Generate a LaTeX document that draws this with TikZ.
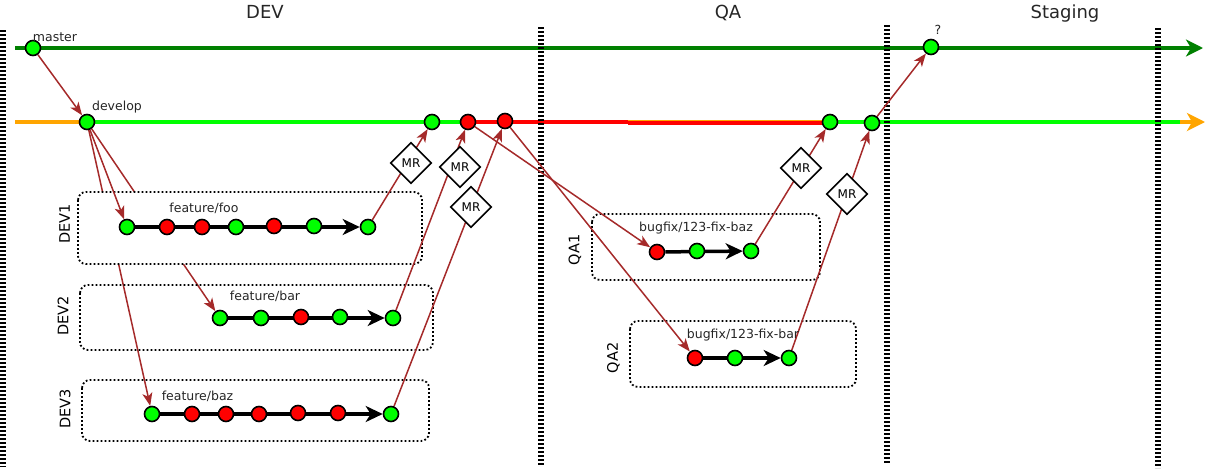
\documentclass[tikz,border=0pt]{standalone}
\usepackage{fontspec}
\setmainfont{DejaVu Sans}
\usetikzlibrary{arrows.meta,shapes.geometric}
\definecolor{mgreen}{RGB}{0,128,0}
\definecolor{cgreen}{RGB}{0,255,0}
\definecolor{cred}{RGB}{255,0,0}
\definecolor{corange}{RGB}{255,165,0}
\definecolor{cbrown}{RGB}{165,42,42}
\pgfdeclarelayer{back}
\pgfsetlayers{back,main}
\begin{document}
\begin{tikzpicture}[x=1pt,y=-1pt,
  commit/.style={circle,draw=black,line width=1.6pt,minimum size=15pt,inner sep=0pt},
  gc/.style={commit,fill=cgreen},
  rc/.style={commit,fill=cred},
  sepline/.style={line width=5.5pt,dash pattern=on 2pt off 2pt},
  lane/.style={draw=black,line width=1.8pt,dash pattern=on 1.8pt off 2.2pt,rounded corners=8pt},
  link/.style={cbrown,line width=1.5pt,-{Stealth[length=13pt,width=10pt,inset=3.5pt]}},
  branchline/.style={black,line width=3.5pt,-{Stealth[length=17pt,width=16pt,inset=5pt]}},
  mr/.style={diamond,draw=black,fill=white,line width=1.6pt,minimum size=41pt,inner sep=0pt,font=\fontsize{12}{14}\selectfont},
  small/.style={font=\fontsize{12.5}{15}\selectfont,anchor=base,text=black!85},
  title/.style={font=\fontsize{18}{21}\selectfont,anchor=base,text=black!85},
  lanelabel/.style={font=\fontsize{14.5}{17}\selectfont,rotate=90},
  mainline/.style={line width=4pt},
]
\path[use as bounding box] (0,0) rectangle (1207,474);

% titles
\node[title] (tdev) at (265,18) {DEV};
\node[title] (tqa) at (728,18) {QA};
\node[title] (tstg) at (1065,18) {Staging};

% master / develop commits
\node[gc] (m0) at (33,48) {};
\node[gc] (mq) at (931,47) {};
\node[gc] (d0) at (87,122) {};
\node[gc] (d1) at (432,122) {};
\node[rc] (d2) at (468,122) {};
\node[rc] (d3) at (505,121) {};
\node[gc] (d4) at (830,122) {};
\node[gc] (d5) at (872,123) {};
\node[small] (lmaster) at (55,41.5) {master};
\node[small] (ldevelop) at (117,110) {develop};
\node[small] (lq) at (938,34.5) {?};

% feature/foo
\node[gc] (f1) at (127,227) {};
\node[rc] (f2) at (167,227) {};
\node[rc] (f3) at (202,227) {};
\node[gc] (f4) at (236,227) {};
\node[rc] (f5) at (274,226) {};
\node[gc] (f6) at (314,226) {};
\node[gc] (f7) at (368,227) {};
% feature/bar
\node[gc] (b1) at (220,318) {};
\node[gc] (b2) at (261,318) {};
\node[rc] (b3) at (301,317) {};
\node[gc] (b4) at (340,317) {};
\node[gc] (b5) at (393,318) {};
% feature/baz
\node[gc] (z1) at (152,414) {};
\node[rc] (z2) at (192,414) {};
\node[rc] (z3) at (226,414) {};
\node[rc] (z4) at (259,414) {};
\node[rc] (z5) at (298,413) {};
\node[rc] (z6) at (338,413) {};
\node[gc] (z7) at (391,414) {};
% bugfix/123-fix-baz
\node[rc] (qa1) at (657,252) {};
\node[gc] (qa2) at (697,251) {};
\node[gc] (qa3) at (751,251) {};
% bugfix/123-fix-bar
\node[rc] (qb1) at (695,358) {};
\node[gc] (qb2) at (735,358) {};
\node[gc] (qb3) at (789,358) {};

% branch labels
\node[small] (lfoo) at (204,212) {feature/foo};
\node[small] (lbar) at (265,300.5) {feature/bar};
\node[small] (lbaz) at (197.5,400) {feature/baz};
\node[small] (lqa1) at (696,231.5) {bugfix/123-fix-baz};
\node[small] (lqa2) at (743,338.5) {bugfix/123-fix-bar};

% lane labels
\node[lanelabel] (ldev1) at (64.5,224) {DEV1};
\node[lanelabel] (ldev2) at (63,316) {DEV2};
\node[lanelabel] (ldev3) at (65,409) {DEV3};
\node[lanelabel] (lqa1l) at (575,250) {QA1};
\node[lanelabel] (lqa2l) at (613.5,358) {QA2};

% MR diamonds
\node[mr] (mr1) at (411,163) {MR};
\node[mr] (mr2) at (460,167) {MR};
\node[mr] (mr3) at (471,207) {MR};
\node[mr] (mr4) at (801,168) {MR};
\node[mr] (mr5) at (847,194) {MR};

\coordinate (ms) at (15,48);
\coordinate (me) at (1203,48);
\coordinate (ds) at (15,122);
\coordinate (de) at (1205,122);
\coordinate (rmid) at (628,122);
\coordinate (rmid2) at (628,123);
\coordinate (rend2) at (830,123);
\coordinate (gend) at (1180,122);

\begin{pgfonlayer}{back}
  % horizontal lines
  \draw[mainline,mgreen,-{Stealth[length=17pt,width=17pt,inset=5pt]}] (ms) -- (me);
  \draw[mainline,corange,-{Stealth[length=18pt,width=18pt,inset=5pt]}] (ds) -- (de);
  \draw[mainline,cgreen] (d0.center) -- (d2.center);
  \draw[mainline,cred] (d2.center) -- (rmid);
  \draw[line width=3.6pt,cred] (rmid2) -- (rend2);
  \draw[mainline,cgreen] (d4.center) -- (gend);
  % stage separators
  \draw[sepline] (3,30) -- (3,467);
  \draw[sepline] (541,27) -- (541,465);
  \draw[sepline] (887,25) -- (887,463);
  \draw[sepline] (1158,28) -- (1158,468);
  % develop -> bar / baz (hidden under DEV1 box)
  \draw[link] (d0) -- (b1);
  \draw[link] (d0) -- (z1);
  % lanes
  \draw[lane,fill=white] (78,192) rectangle (422,264);
  \draw[lane] (80,285) rectangle (433,350);
  \draw[lane] (82,380) rectangle (429,441);
  \draw[lane] (592,214) rectangle (820,280);
  \draw[lane] (630,321) rectangle (856,387);
  % branch lines
  \draw[branchline] (f1) -- (f7);
  \draw[branchline] (b1) -- (b5);
  \draw[branchline] (z1) -- (z7);
  \draw[branchline] (qa1) -- (qa3);
  \draw[branchline] (qb1) -- (qb3);
  % links
  \draw[link] (m0) -- (d0);
  \draw[link] (d0) -- (f1);
  \draw[link] (f7) -- (d1);
  \draw[link] (b5) -- (d2);
  \draw[link] (z7) -- (d3);
  \draw[link] (d2) -- (qa1);
  \draw[link] (d3) -- (qb1);
  \draw[link] (qa3) -- (d4);
  \draw[link] (qb3) -- (d5);
  \draw[link] (d5) -- (mq);
\end{pgfonlayer}
\end{tikzpicture}
\end{document}
